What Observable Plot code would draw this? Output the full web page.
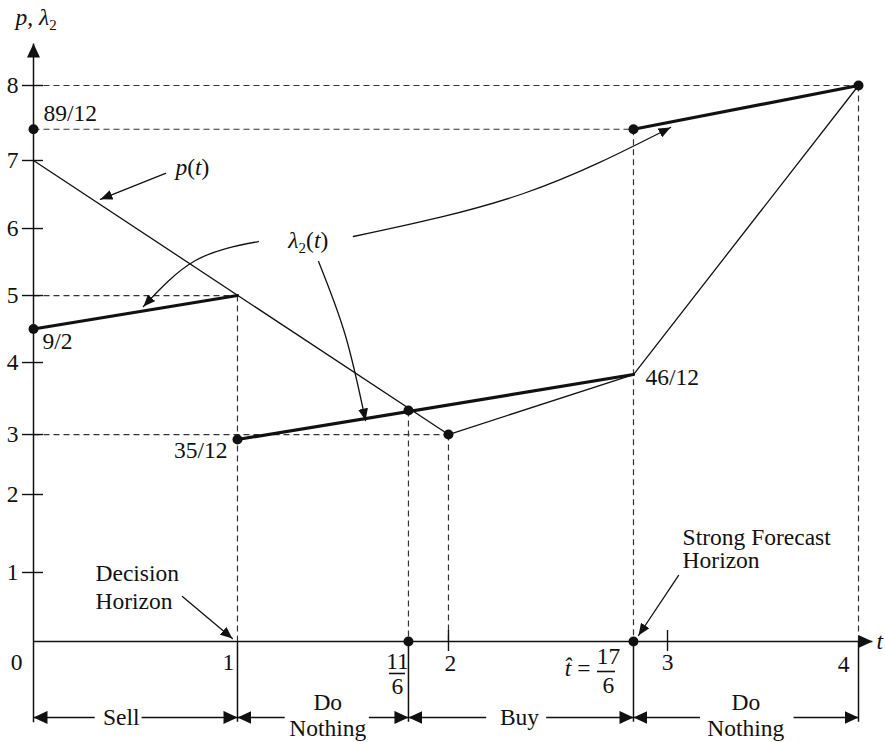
<!DOCTYPE html>
<html><head><meta charset="utf-8">
<script src="https://cdn.jsdelivr.net/npm/d3@7"></script>
<script src="https://cdn.jsdelivr.net/npm/@observablehq/plot@0.6"></script>
<style>body{margin:0;background:#fff} #chart svg{display:block;background:#fff}</style>
</head><body><div id="chart"></div>
<script>
// ---------------- data ----------------
const xTicks = [0, 1, 2, 3, 4];
const yTicks = [1, 2, 3, 4, 5, 6, 7, 8];
// p(t)
const pT = [0, 2, 17/6, 4];
const pV = [7, 3, 46/12, 8];
// lambda_2(t), three pieces
const lamPiece = [1, 1, 2, 2, 3, 3];
const lamT = [0, 1, 1, 17/6, 17/6, 4];
const lamV = [9/2, 5, 35/12, 46/12, 89/12, 8];
// marked points
const dotT = [0, 0, 1, 11/6, 2, 17/6, 4, 11/6, 17/6];
const dotV = [9/2, 89/12, 35/12, 10/3, 3, 89/12, 8, 0, 0];
// dashed guides [t1, v1, t2, v2]
const guides = [
  [0, 8, 4, 8], [4, 8, 4, 0],
  [0, 89/12, 17/6, 89/12], [17/6, 89/12, 17/6, 0],
  [0, 5, 1, 5], [1, 5, 1, 0],
  [0, 3, 2, 3], [2, 3, 2, 0],
  [11/6, 10/3, 11/6, 0]
];
// value labels
const valueLabels = ["9/2", "89/12", "35/12", "46/12"];
// decision regions
const regionBounds = [0, 1, 11/6, 17/6, 4];
const regionLabels = ["Sell", "Do\nNothing", "Buy", "Do\nNothing"];
const regionLabelT = [0.43, 1.44, 2.32, 3.41];
const regionGaps = [[0.30, 0.53], [1.23, 1.64], [2.17, 2.44], [3.17, 3.66]];
const regionLevel = -1.10;
const separatorBottom = -1.17;
// callouts (t, value)
const calloutP = [[0.647, 6.81], [0.328, 6.43]];
const calloutLam = [
  [[1.102, 5.806], [0.794, 5.522], [0.539, 4.836]],
  [[1.395, 5.507], [1.526, 4.403], [1.624, 3.194]],
  [[1.565, 5.881], [2.338, 6.515], [3.016, 7.44]]
];
const calloutDecision = [[0.730, 0.652], [0.975, 0.043]];
const calloutForecast = [[3.058, 0.957], [2.858, 0.087]];
const pLabelPos = [0.696, 6.90];
const lamLabelPos = [1.248, 5.82];
const decisionPos = [0.304, 0.80];
const forecastPos = [3.079, 1.30];

// the hand-drawn axes are not evenly spaced: warp the data axes before scaling
const warpX = d3.scaleLinear().domain([0, 1, 11/6, 2, 17/6, 3, 4]).range([0, 0.989, 1.818, 2.012, 2.909, 3.074, 4]);
const warpY = d3.scaleLinear().domain([0, 1, 2, 3, 4, 5, 6, 7, 8]).range([0, 0.993, 2.115, 2.978, 4.014, 4.978, 5.942, 6.921, 8]);

// ---------------- chart ----------------
const serif = "Liberation Serif, Times New Roman, serif";
const FS = 23.5;
const ink = "#111";

const pData = pT.map((t, i) => ({t, v: pV[i]}));
const lamData = lamT.map((t, i) => ({t, v: lamV[i], k: lamPiece[i]}));
const dotData = dotT.map((t, i) => ({t, v: dotV[i]}));
const lamCurves = calloutLam.flatMap((c, k) => c.map(([t, v]) => ({t, v, k})));
const regionArrows = regionGaps.flatMap(([g1, g2], i) => [[g1, regionBounds[i]], [g2, regionBounds[i + 1]]]);

const txt = (extra) => ({fontFamily: serif, fontSize: FS, fill: ink, ...extra});

const marks = [
  Plot.link(guides, {x1: d => d[0], y1: d => d[1], x2: d => d[2], y2: d => d[3],
    stroke: "#333", strokeWidth: 1.2, strokeDasharray: "6,4"}),
  Plot.ruleX(regionBounds.slice(1), {x: d => d, y1: () => 0, y2: () => separatorBottom, stroke: ink, strokeWidth: 1.5}),
  Plot.link([[0, separatorBottom, 0, 8.56], [0, 0, 4.073, 0]],
    {x1: d => d[0], y1: d => d[1], x2: d => d[2], y2: d => d[3], stroke: ink, strokeWidth: 1.5, markerEnd: "arrow"}),
  Plot.ruleY(yTicks, {y: d => d, x1: () => 0, x2: () => 0, insetLeft: -11, insetRight: -10, stroke: ink, strokeWidth: 1.4}),
  Plot.ruleX([2, 3], {x: d => d, y1: () => 0, y2: () => 0, insetTop: -11, insetBottom: -10, stroke: ink, strokeWidth: 1.4}),
  Plot.line(pData, {x: "t", y: "v", stroke: ink, strokeWidth: 1.3}),
  Plot.line(lamData, {x: "t", y: "v", z: "k", stroke: ink, strokeWidth: 3.2}),
  Plot.dot(dotData, {x: "t", y: "v", r: 5, fill: ink, stroke: "none"}),
  Plot.line(calloutP, {x: d => d[0], y: d => d[1], stroke: ink, strokeWidth: 1.3, markerEnd: "arrow"}),
  Plot.line(lamCurves, {x: "t", y: "v", z: "k", curve: "natural", stroke: ink, strokeWidth: 1.3, markerEnd: "arrow"}),
  Plot.line(calloutDecision, {x: d => d[0], y: d => d[1], stroke: ink, strokeWidth: 1.3, markerEnd: "arrow"}),
  Plot.line(calloutForecast, {x: d => d[0], y: d => d[1], stroke: ink, strokeWidth: 1.3, markerEnd: "arrow"}),
  Plot.link(regionArrows, {x1: d => d[0], x2: d => d[1], y1: () => regionLevel, y2: () => regionLevel,
    stroke: ink, strokeWidth: 1.5, markerEnd: "arrow"}),
  Plot.text(regionLabels, txt({x: (d, i) => regionLabelT[i], y: () => regionLevel, text: d => d,
    filter: d => !d.includes("\n")})),
  Plot.text(regionLabels, txt({x: (d, i) => regionLabelT[i], y: () => regionLevel, text: d => d,
    filter: d => d.includes("\n"), lineHeight: 1.13, dy: -3})),
  Plot.text(yTicks, txt({x: () => 0, y: d => d, text: d => String(d), textAnchor: "end", dx: -15})),
  ...[[-17, 21], [-9, 21], [2, 22], [0, 21], [-15, 23]].map(([dx, dy], i) =>
    Plot.text([xTicks[i]], txt({x: d => d, y: () => 0, text: d => String(d), dx, dy}))),
  Plot.text([11/6], txt({x: d => d, y: () => 0, text: () => "11", dx: -11, dy: 20})),
  Plot.ruleY([0], {y: d => d, x1: () => 11/6, x2: () => 11/6, insetLeft: -19, insetRight: 3, dy: 32, stroke: ink, strokeWidth: 1.6}),
  Plot.text([11/6], txt({x: d => d, y: () => 0, text: () => "6", dx: -11, dy: 45})),
  Plot.text([17/6], txt({x: d => d, y: () => 0, text: () => "t\u0302 =", textAnchor: "end", dx: -43, dy: 27})),
  Plot.text([17/6], txt({x: d => d, y: () => 0, text: () => "17", dx: -25, dy: 15})),
  Plot.ruleY([0], {y: d => d, x1: () => 17/6, x2: () => 17/6, insetLeft: -36, insetRight: 18, dy: 30, stroke: ink, strokeWidth: 1.6}),
  Plot.text([17/6], txt({x: d => d, y: () => 0, text: () => "6", dx: -25, dy: 44})),
  Plot.text([4], txt({x: d => d, y: () => 0, text: () => "t", fontStyle: "italic", textAnchor: "start", dx: 18, dy: 0})),
  Plot.text([8], txt({x: () => 0, y: d => d, text: () => "p, λ2", textAnchor: "start", dx: -18, dy: -68})),
  Plot.text([valueLabels[0]], txt({x: () => 0, y: () => 9/2, text: d => d, textAnchor: "start", dx: 9, dy: 12})),
  Plot.text([valueLabels[1]], txt({x: () => 0, y: () => 89/12, text: d => d, textAnchor: "start", dx: 10, dy: -16})),
  Plot.text([valueLabels[2]], txt({x: () => 1, y: () => 35/12, text: d => d, textAnchor: "end", dx: -10, dy: 11})),
  Plot.text([valueLabels[3]], txt({x: () => 17/6, y: () => 46/12, text: d => d, textAnchor: "start", dx: 12, dy: 3})),
  Plot.text([pLabelPos], txt({x: d => d[0], y: d => d[1], text: () => "p(t)", textAnchor: "start"})),
  Plot.text([lamLabelPos], txt({x: d => d[0], y: d => d[1], text: () => "λ2(t)", textAnchor: "start"})),
  Plot.text([decisionPos], txt({x: d => d[0], y: d => d[1], text: () => "Decision\nHorizon", textAnchor: "start", lineHeight: 1.17})),
  Plot.text([forecastPos], txt({x: d => d[0], y: d => d[1], text: () => "Strong Forecast\nHorizon", textAnchor: "start", lineHeight: 1.0}))
];

const svg = Plot.plot({
  width: 885,
  height: 742,
  marginLeft: 33,
  marginRight: 27,
  marginTop: 85,
  marginBottom: 101,
  x: {domain: [0, 4], transform: warpX, axis: null},
  y: {domain: [0, 8], transform: warpY, axis: null},
  style: {background: "#fff", color: ink},
  marks
});

// filled triangular arrowheads
const root = d3.select(svg);
root.selectAll("marker").each(function () {
  const big = this.parentNode && this.parentNode.getAttribute("aria-label") === "link";
  const L = big ? 14 : 12, W = big ? 13 : 10;
  const m = d3.select(this);
  const color = m.attr("stroke") || ink;
  m.attr("viewBox", `${-L} ${-W / 2} ${L} ${W}`)
    .attr("markerUnits", "userSpaceOnUse")
    .attr("markerWidth", L).attr("markerHeight", W)
    .attr("orient", "auto")
    .attr("fill", color).attr("stroke", "none");
  m.selectAll("*").remove();
  m.append("path").attr("d", `M${-L},${-W / 2}L0,0L${-L},${W / 2}Z`);
});

// math typography
const rich = {
  "p, λ2": '<tspan font-style="italic">p</tspan>, <tspan font-style="italic">λ</tspan><tspan font-size="15" dy="5">2</tspan>',
  "p(t)": '<tspan font-style="italic">p</tspan>(<tspan font-style="italic">t</tspan>)',
  "λ2(t)": '<tspan font-style="italic">λ</tspan><tspan font-size="15" dy="5">2</tspan><tspan dy="-5">(</tspan><tspan font-style="italic">t</tspan>)',
  "t\u0302 =": '<tspan font-style="italic">t\u0302</tspan> ='
};
root.selectAll("text").each(function () {
  const h = rich[this.textContent];
  if (h) this.innerHTML = h;
});

document.getElementById("chart").appendChild(svg);
</script>
</body></html>
